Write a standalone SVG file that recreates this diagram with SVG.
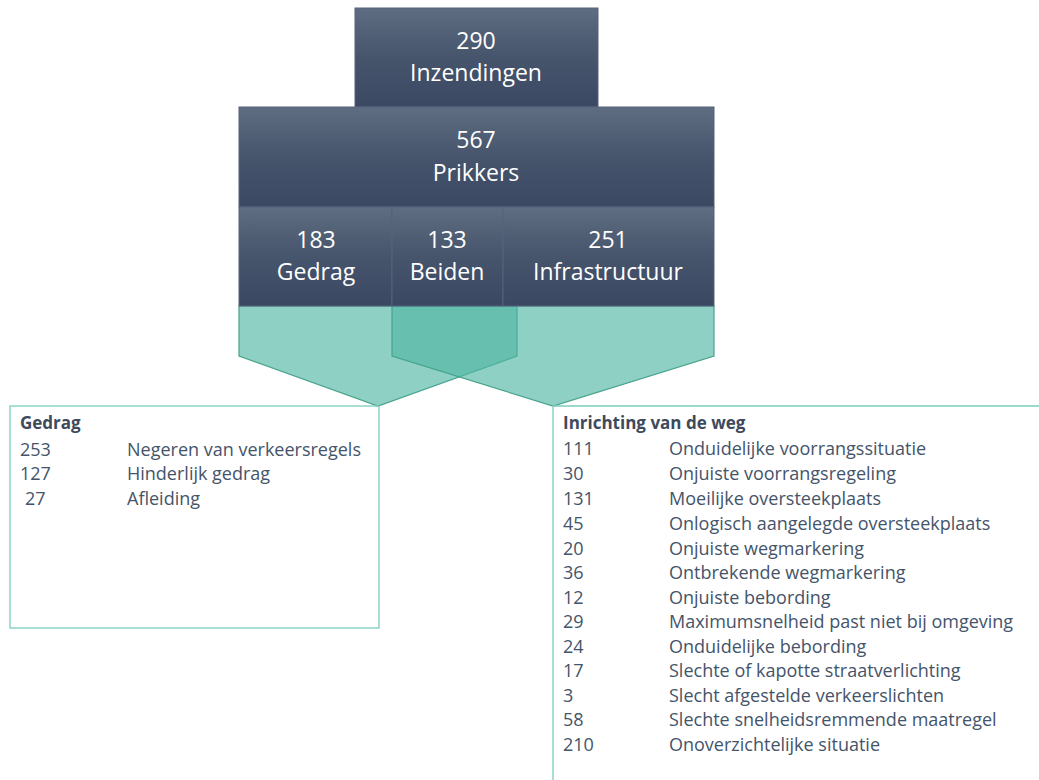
<svg xmlns="http://www.w3.org/2000/svg" width="1039" height="780" viewBox="0 0 1039 780">
<defs>
<linearGradient id="bar" x1="0" y1="0" x2="0" y2="1">
<stop offset="0" stop-color="#5f6d82"/>
<stop offset="0.5" stop-color="#46546c"/>
<stop offset="1" stop-color="#3a4862"/>
</linearGradient>
<style>
.bar{fill:url(#bar);stroke:#56637a;stroke-width:1}
.bt{font-family:"Open Sans","Liberation Sans",sans-serif;font-size:23px;fill:#ffffff;text-anchor:middle}
.fun{fill:rgb(80,181,162);fill-opacity:0.64;stroke:#45a48c;stroke-width:1.2}
.box{fill:none;stroke:#7ccdbd;stroke-width:1.3}
.lt{font-family:"Open Sans","Liberation Sans",sans-serif;font-size:18px;fill:#44546a}
.hd{font-family:"Open Sans","Liberation Sans",sans-serif;font-size:17px;font-weight:bold;fill:#3e4a5c}
</style>
</defs>
<rect width="1039" height="780" fill="#ffffff"/>

<g id="connectors">
<polygon class="fun" points="239,306 517,306 517,356 378,406 239,356"/>
<polygon class="fun" points="392,306 714,306 714,356 553,406 392,356"/>
</g>

<g id="inzendingen">
<rect class="bar" x="355" y="8" width="243" height="99"/>
<text class="bt" x="476" y="49">290</text>
<text class="bt" x="476" y="81">Inzendingen</text>
</g>

<g id="prikkers">
<rect class="bar" x="239" y="107" width="475" height="100"/>
<text class="bt" x="476" y="148">567</text>
<text class="bt" x="476" y="181">Prikkers</text>
</g>

<g id="gedrag-bar">
<rect class="bar" x="239" y="207" width="153" height="99"/>
<text class="bt" x="316" y="248">183</text>
<text class="bt" x="316" y="280">Gedrag</text>
</g>

<g id="beiden-bar">
<rect class="bar" x="392" y="207" width="111" height="99"/>
<text class="bt" x="447" y="248">133</text>
<text class="bt" x="447" y="280">Beiden</text>
</g>

<g id="infra-bar">
<rect class="bar" x="503" y="207" width="211" height="99"/>
<text class="bt" x="608" y="248">251</text>
<text class="bt" x="608" y="280">Infrastructuur</text>
</g>

<g id="gedrag-box">
<rect class="box" x="10" y="406" width="369" height="222"/>
<text class="hd" x="20" y="429">Gedrag</text>
<text class="lt" x="20" y="456">253</text><text class="lt" x="127" y="456">Negeren van verkeersregels</text>
<text class="lt" x="20" y="480">127</text><text class="lt" x="127" y="480">Hinderlijk gedrag</text>
<text class="lt" x="25" y="505">27</text><text class="lt" x="127" y="505">Afleiding</text>
</g>

<g id="infra-box">
<path class="box" d="M553,780 V406 H1039"/>
<text class="hd" x="563" y="429">Inrichting van de weg</text>
<g class="lt">
<text x="563" y="455">111</text><text x="669" y="455">Onduidelijke voorrangssituatie</text>
<text x="563" y="480">30</text><text x="669" y="480">Onjuiste voorrangsregeling</text>
<text x="563" y="505">131</text><text x="669" y="505">Moeilijke oversteekplaats</text>
<text x="563" y="530">45</text><text x="669" y="530">Onlogisch aangelegde oversteekplaats</text>
<text x="563" y="555">20</text><text x="669" y="555">Onjuiste wegmarkering</text>
<text x="563" y="579">36</text><text x="669" y="579">Ontbrekende wegmarkering</text>
<text x="563" y="604">12</text><text x="669" y="604">Onjuiste bebording</text>
<text x="563" y="628">29</text><text x="669" y="628">Maximumsnelheid past niet bij omgeving</text>
<text x="563" y="653">24</text><text x="669" y="653">Onduidelijke bebording</text>
<text x="563" y="677">17</text><text x="669" y="677">Slechte of kapotte straatverlichting</text>
<text x="563" y="702">3</text><text x="669" y="702">Slecht afgestelde verkeerslichten</text>
<text x="563" y="726">58</text><text x="669" y="726">Slechte snelheidsremmende maatregel</text>
<text x="563" y="751">210</text><text x="669" y="751">Onoverzichtelijke situatie</text>
</g>
</g>
</svg>
